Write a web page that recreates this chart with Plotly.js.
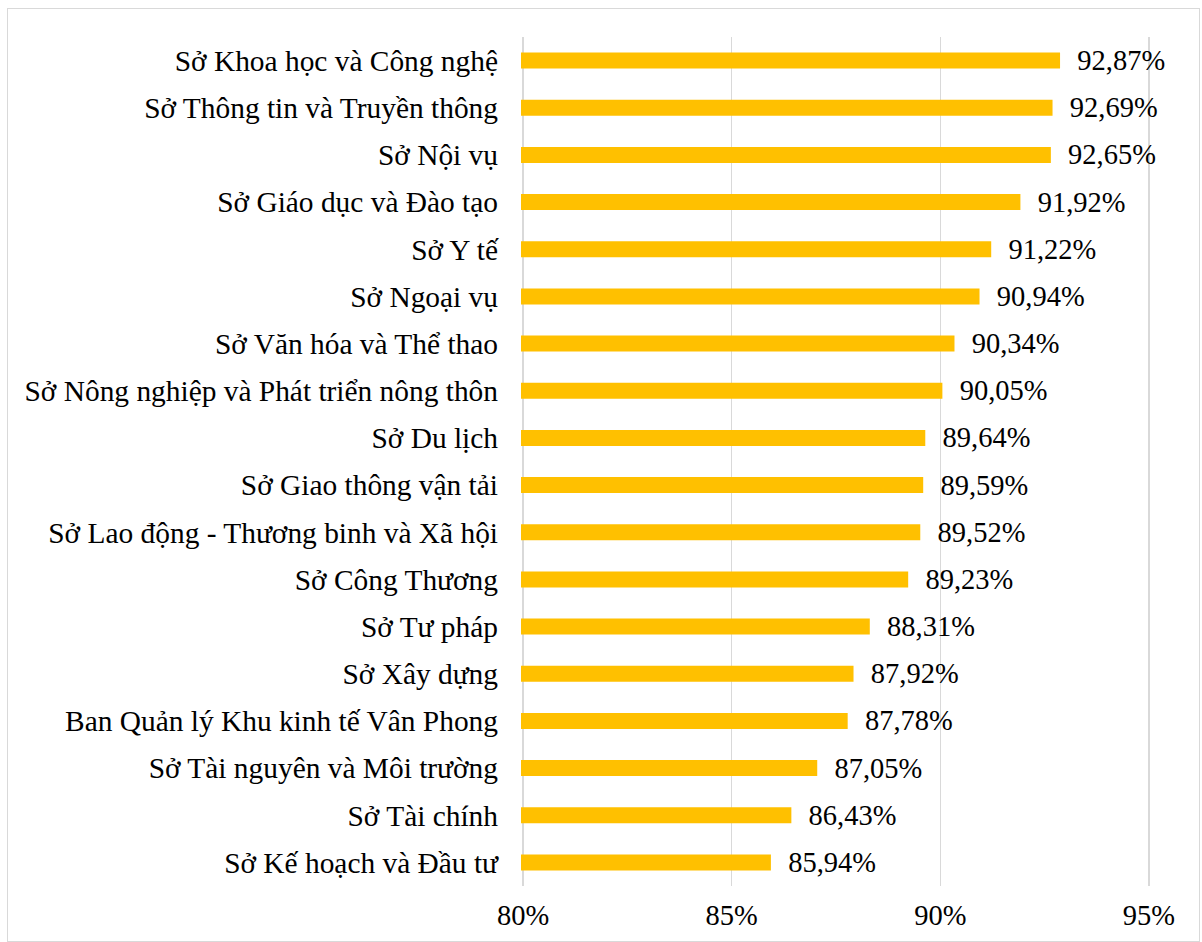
<!DOCTYPE html>
<html>
<head>
<meta charset="utf-8">
<script src="https://cdn.plot.ly/plotly-3.0.1.min.js"></script>
<style>
  body { margin: 0; background: #fff; }
  #chart {
    position: absolute; left: 7px; top: 8px;
    width: 1193px; height: 934px;
    border: 1.5px solid #d9d9d9; box-sizing: border-box;
  }
</style>
</head>
<body>
<div id="chart"></div>
<script>
// top-to-bottom order as in the picture
const units = [
  "Sở Khoa học và Công nghệ",
  "Sở Thông tin và Truyền thông",
  "Sở Nội vụ",
  "Sở Giáo dục và Đào tạo",
  "Sở Y tế",
  "Sở Ngoại vụ",
  "Sở Văn hóa và Thể thao",
  "Sở Nông nghiệp và Phát triển nông thôn",
  "Sở Du lịch",
  "Sở Giao thông vận tải",
  "Sở Lao động - Thương binh và Xã hội",
  "Sở Công Thương",
  "Sở Tư pháp",
  "Sở Xây dựng",
  "Ban Quản lý Khu kinh tế Vân Phong",
  "Sở Tài nguyên và Môi trường",
  "Sở Tài chính",
  "Sở Kế hoạch và Đầu tư"
];
const scores = [92.87, 92.69, 92.65, 91.92, 91.22, 90.94, 90.34, 90.05, 89.64,
                89.59, 89.52, 89.23, 88.31, 87.92, 87.78, 87.05, 86.43, 85.94];
const xTicks = [80, 85, 90, 95];
const xTickText = ['80%', '85%', '90%', '95%'];

const serif = "'Liberation Serif', 'Times New Roman', serif";
const fs = 28.5;

const trace = {
  type: 'bar',
  orientation: 'h',
  x: scores,
  y: units,
  marker: { color: '#FFC000' },
  texttemplate: '\u00a0\u00a0%{x:.2f}%',
  textposition: 'outside',
  constraintext: 'none',
  cliponaxis: false,
  textfont: { family: serif, size: fs, color: '#000' },
  hoverinfo: 'skip'
};

Plotly.newPlot('chart', [trace], {
  width: 1190,
  height: 931,
  margin: { l: 513, r: 47, t: 28, b: 54 },
  separators: ',.',
  bargap: 0.66,
  showlegend: false,
  font: { family: serif, size: fs, color: '#000' },
  paper_bgcolor: 'rgba(0,0,0,0)',
  plot_bgcolor: 'rgba(0,0,0,0)',
  xaxis: {
    range: [79.95, 95.05],
    tickvals: xTicks,
    ticktext: xTickText,
    showgrid: true,
    gridcolor: '#d9d9d9',
    gridwidth: 1.5,
    zeroline: false,
    showline: false,
    ticks: '',
    ticklabelstandoff: 9,
    tickfont: { family: serif, size: fs, color: '#000' }
  },
  yaxis: {
    autorange: 'reversed',
    type: 'category',
    showgrid: false,
    showline: false,
    ticks: '',
    ticklabelstandoff: 22,
    tickfont: { family: serif, size: 29.4, color: '#000' }
  }
}, { displayModeBar: false, staticPlot: true });
</script>
</body>
</html>
